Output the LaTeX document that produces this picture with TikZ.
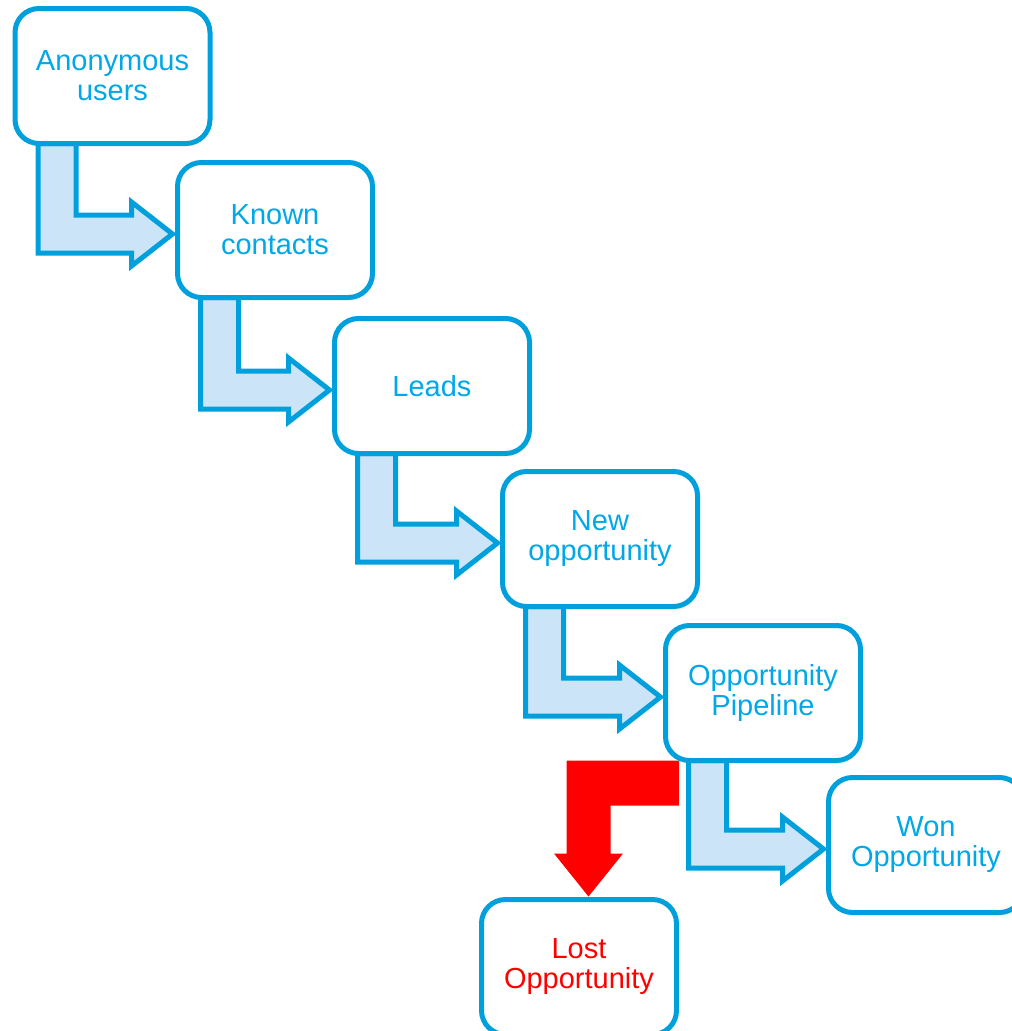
\documentclass[tikz,border=0pt]{standalone}
\usepackage{fontspec}
\setmainfont{Liberation Sans}
\usetikzlibrary{calc,backgrounds}
\definecolor{boxblue}{RGB}{0,160,220}
\definecolor{textblue}{RGB}{0,168,232}
\definecolor{fillblue}{RGB}{204,228,247}
\definecolor{lostred}{RGB}{255,0,0}
\tikzset{
  stagebox/.style={draw=boxblue, line width=5pt, fill=white, rounded corners=24pt,
    minimum width=195pt, minimum height=135pt, outer sep=0pt, align=center,
    text=textblue, font=\fontsize{29}{30}\selectfont},
  flowshape/.style={draw=boxblue, fill=fillblue, line width=5pt, line join=miter},
  lostshape/.style={fill=lostred}
}
\newcommand\flowarrow[2]{%
  \coordinate (fA) at ($(#1.south west)+(23,0)$);
  \coordinate (fB) at ($(#1.south west)+(61,0)$);
  \coordinate (fT) at ($(#2.west)+(0,4)$);
  \path (fA |- fT) coordinate (fAT) (fB |- fT) coordinate (fBT);
  \draw[flowshape] (fA) -- ($(fAT)+(0,19)$) -- ($(fT)+(-46,19)$) -- ($(fT)+(-46,32)$)
    -- ($(fT)+(-5,0)$) -- ($(fT)+(-46,-32)$) -- ($(fT)+(-46,-19)$)
    -- ($(fBT)+(0,-19)$) -- (fB) -- cycle;
}
\begin{document}
\begin{tikzpicture}[x=1pt,y=-1pt]
\useasboundingbox (0,0) rectangle (1012,1031);
\node[stagebox] (b1) at (112.5,76) {Anonymous\\users};
\node[stagebox] (b2) at (275,230) {Known\\contacts};
\node[stagebox] (b3) at (432,386) {Leads};
\node[stagebox] (b4) at (600,539) {New\\opportunity};
\node[stagebox] (b5) at (763,693) {Opportunity\\Pipeline};
\node[stagebox] (b6) at (926,845) {Won\\Opportunity};
\node[stagebox, text=lostred] (b7) at (579,967) {Lost\\Opportunity};
\begin{scope}[on background layer]
\flowarrow{b1}{b2}
\flowarrow{b2}{b3}
\flowarrow{b3}{b4}
\flowarrow{b4}{b5}
\flowarrow{b5}{b6}
\coordinate (lS) at ($(b5.south west)+(13.5,0)$);
\coordinate (lR) at ($(b7.north)+(9.5,-3)$);
\path (lR |- lS) coordinate (lRS);
\fill[lostshape] ($(lRS)+(-22,0)$) -- (lS) -- ($(lS)+(0,45)$) -- ($(lRS)+(22,45)$)
  -- ($(lR)+(22,-43)$) -- ($(lR)+(34.5,-43)$) -- (lR) -- ($(lR)+(-34.5,-43)$)
  -- ($(lR)+(-22,-43)$) -- cycle;
\end{scope}
\end{tikzpicture}
\end{document}
